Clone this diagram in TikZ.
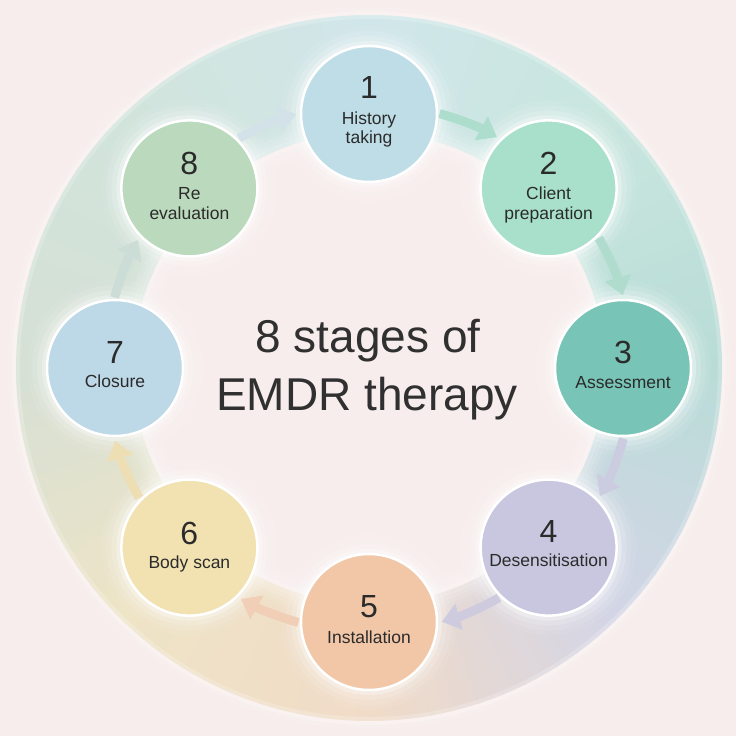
\documentclass[tikz,border=0pt]{standalone}
\usepackage{fontspec}
\setmainfont{Liberation Sans}
\usetikzlibrary{arrows.meta}
\definecolor{bg}{HTML}{F7EDEC}
\definecolor{txt}{HTML}{2B2B2B}
\definecolor{ttl}{HTML}{303030}
% ring key colours (math angle 0,45,...,315)
\definecolor{rc0}{HTML}{B9DCD7}
\definecolor{rc1}{HTML}{C8E6DE}
\definecolor{rc2}{HTML}{D1E6EA}
\definecolor{rc3}{HTML}{D1E4DB}
\definecolor{rc4}{HTML}{D6E0D5}
\definecolor{rc5}{HTML}{EEE4C6}
\definecolor{rc6}{HTML}{F1DBC8}
\definecolor{rc7}{HTML}{D3D5E6}
% stage colours
\definecolor{sa}{HTML}{BFDDE6}
\definecolor{sb}{HTML}{A8E0CC}
\definecolor{sc}{HTML}{78C4B6}
\definecolor{sd}{HTML}{C9C7DF}
\definecolor{se}{HTML}{F2C7A8}
\definecolor{sf}{HTML}{F2E2B2}
\definecolor{sg}{HTML}{BDD8E6}
\definecolor{sh}{HTML}{BBD9BD}
% arrow colours
\definecolor{aa}{HTML}{ACDDCD}
\definecolor{ab}{HTML}{B0DCCE}
\definecolor{ac}{HTML}{CCCCE1}
\definecolor{ad}{HTML}{CECBDF}
\definecolor{ae}{HTML}{F1CFB6}
\definecolor{af}{HTML}{EEDEB4}
\definecolor{ag}{HTML}{CCDCD7}
\definecolor{ah}{HTML}{D3E2E8}
\tikzset{
  stagebox/.style={circle, minimum size=136pt, inner sep=0pt, draw=white, line width=2.5pt},
  numtxt/.style={font=\fontsize{32}{32}\selectfont, text=txt, anchor=base, inner sep=0pt},
  lbltxt/.style={font=\fontsize{17.5}{20}\selectfont, text=txt, anchor=base, inner sep=0pt},
  ttltxt/.style={font=\fontsize{46}{50}\selectfont, text=ttl, anchor=base, inner sep=0pt},
  flow/.style={line width=9pt, -{Triangle[width=26pt,length=18pt]}},
}
\begin{document}
\begin{tikzpicture}[x=1pt,y=1pt]
\fill[bg] (0,0) rectangle (736,736);
\useasboundingbox (0,0) rectangle (736,736);
\begin{scope}[shift={(369,368)}]
  % ring with angular colour change
  \foreach \a in {0,2,...,358}{
    \pgfmathtruncatemacro{\k}{floor(\a/45)}
    \pgfmathtruncatemacro{\kk}{mod(\k+1,8)}
    \pgfmathtruncatemacro{\t}{(\a+1-45*\k)/45*100}
    \colorlet{segc}{rc\kk!\t!rc\k}
    \fill[segc] (\a:353) arc[start angle=\a, end angle=\a+2.4, radius=353]
      -- (\a+2.4:236) arc[start angle=\a+2.4, end angle=\a, radius=236] -- cycle;
  }
  % soft inner and outer edges
  \foreach \r/\o in {222/0.08,226/0.14,230/0.22,234/0.3,238/0.34,242/0.26,246/0.18,250/0.10,254/0.05}
    \draw[white, line width=4.2pt, opacity=\o] (0,0) circle (\r);
  \foreach \r/\o in {351/0.2,355/0.3,359/0.12}
    \draw[white, line width=4pt, opacity=\o] (0,0) circle (\r);
  % stage positions
  \coordinate (p1) at (90:254);
  \coordinate (p2) at (45:254);
  \coordinate (p3) at (0:254);
  \coordinate (p4) at (-45:254);
  \coordinate (p5) at (-90:254);
  \coordinate (p6) at (-135:254);
  \coordinate (p7) at (180:254);
  \coordinate (p8) at (135:254);
  % halos
  \foreach \i in {1,...,8}{
    \foreach \r/\o in {88/0.06,83/0.10,78/0.16,73/0.30}
      \fill[white, opacity=\o] (p\i) circle (\r);
  }
  % arrow start points
  \coordinate (s1) at (74.5:264);
  \coordinate (s2) at (29.5:264);
  \coordinate (s3) at (-15.5:264);
  \coordinate (s4) at (-60.5:264);
  \coordinate (s5) at (-105.5:264);
  \coordinate (s6) at (-150.5:264);
  \coordinate (s7) at (164.5:264);
  \coordinate (s8) at (119.5:264);
\end{scope}
% connectors
\draw[flow, aa] (s1) arc[start angle=74.5, end angle=61, radius=264];
\draw[flow, ab] (s2) arc[start angle=29.5, end angle=16, radius=264];
\draw[flow, ac] (s3) arc[start angle=-15.5, end angle=-29, radius=264];
\draw[flow, ad] (s4) arc[start angle=-60.5, end angle=-74, radius=264];
\draw[flow, ae] (s5) arc[start angle=-105.5, end angle=-119, radius=264];
\draw[flow, af] (s6) arc[start angle=-150.5, end angle=-164, radius=264];
\draw[flow, ag] (s7) arc[start angle=164.5, end angle=151, radius=264];
\draw[flow, ah] (s8) arc[start angle=119.5, end angle=106, radius=264];
% stages
\node[stagebox, fill=sa] (c1) at (p1) {};
\node[stagebox, fill=sb] (c2) at (p2) {};
\node[stagebox, fill=sc] (c3) at (p3) {};
\node[stagebox, fill=sd] (c4) at (p4) {};
\node[stagebox, fill=se] (c5) at (p5) {};
\node[stagebox, fill=sf] (c6) at (p6) {};
\node[stagebox, fill=sg] (c7) at (p7) {};
\node[stagebox, fill=sh] (c8) at (p8) {};
% texts, two-line labels
\node[numtxt] (n1) at ([yshift=15pt]c1.center) {1};
\node[lbltxt] (l1a) at ([yshift=-11pt]c1.center) {History};
\node[lbltxt] (l1b) at ([yshift=-30pt]c1.center) {taking};
\node[numtxt] (n2) at ([yshift=14pt]c2.center) {2};
\node[lbltxt] (l2a) at ([yshift=-11pt]c2.center) {Client};
\node[lbltxt] (l2b) at ([yshift=-31pt]c2.center) {preparation};
\node[numtxt] (n8) at ([yshift=14pt]c8.center) {8};
\node[lbltxt] (l8a) at ([yshift=-11pt]c8.center) {Re};
\node[lbltxt] (l8b) at ([yshift=-31pt]c8.center) {evaluation};
% one-line labels
\node[numtxt] (n3) at ([yshift=4pt]c3.center) {3};
\node[lbltxt] (l3) at ([yshift=-21pt]c3.center) {Assessment};
\node[numtxt] (n4) at ([yshift=5pt]c4.center) {4};
\node[lbltxt] (l4) at ([yshift=-19pt]c4.center) {Desensitisation};
\node[numtxt] (n5) at ([yshift=4pt]c5.center) {5};
\node[lbltxt] (l5) at ([yshift=-22pt]c5.center) {Installation};
\node[numtxt] (n6) at ([yshift=3pt]c6.center) {6};
\node[lbltxt] (l6) at ([yshift=-21pt]c6.center) {Body scan};
\node[numtxt] (n7) at ([yshift=4pt]c7.center) {7};
\node[lbltxt] (l7) at ([yshift=-20pt]c7.center) {Closure};
% title
\node[ttltxt] (t1) at (368,383) {8 stages of};
\node[ttltxt] (t2) at (367,325) {EMDR therapy};
\end{tikzpicture}
\end{document}
